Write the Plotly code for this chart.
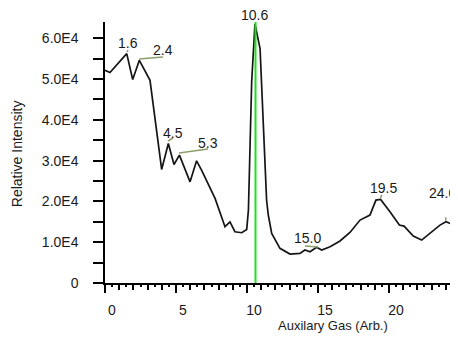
import plotly.graph_objects as go

# ---- data ----
gas = [0, 0.35, 1.53, 1.95, 2.42, 3.17, 3.99, 4.46, 4.86, 5.24, 5.99, 6.45, 6.8,
       7.75, 8.45, 8.8, 9.15, 9.63, 9.98, 10.1, 10.33, 10.56, 10.92, 11.15, 11.38,
       11.5, 11.74, 12.32, 13.03, 13.73, 14.08, 14.44, 14.9, 15.26, 15.85, 16.55,
       17.25, 17.96, 18.66, 19.08, 19.41, 20.07, 20.73, 21.06, 21.71, 22.3, 22.89,
       23.59, 24.01, 24.3, 24.86]
intensity = [52170, 51600, 56250, 49900, 54600, 49700, 27850, 34200, 29070, 31350,
             24800, 29960, 27680, 20750, 13800, 15000, 12570, 12330, 13140, 17880,
             49360, 63500, 57480, 37000, 20350, 16670, 12170, 8500, 7100, 7270, 8080,
             7670, 8740, 8080, 8900, 10300, 12400, 15430, 16650, 20330, 20500, 17460,
             14200, 13960, 11510, 10530, 12170, 14200, 15010, 14620, 15010]
marker_x = 10.6
peak_labels = ["1.6", "2.4", "4.5", "5.3", "10.6", "15.0", "19.5", "24.0"]
y_tick_vals = [0, 5000, 10000, 15000, 20000, 25000, 30000, 35000, 40000, 45000,
               50000, 55000, 60000]
y_tick_text = ["0", "", "1.0E4", "", "2.0E4", "", "3.0E4", "", "4.0E4", "",
               "5.0E4", "", "6.0E4"]
x_tick_vals = list(range(0, 25))
x_tick_text = [str(v) if v % 5 == 0 else "" for v in x_tick_vals]

# ---- layout helpers (placement only) ----
label_pos = [(1.62, 58850, 0), (4.08, 57130, 0), (4.79, 36780, 0), (7.25, 34330, 0),
             (10.56, 64000, 7), (14.23, 11030, 0), (19.58, 23290, 0), (23.8, 22070, 0)]
leaders = [((1.55, 56640), (1.62, 57130)), ((2.39, 54920), (4.08, 55410)),
           ((4.44, 34820), (4.79, 35550)), ((5.21, 31870), (7.25, 32860)),
           ((14.08, 9070), (15.0, 8830)), ((19.4, 20900), (19.5, 21600)),
           ((24.0, 15300), (24.0, 16100))]

FONT = "Liberation Sans, Arial, sans-serif"
XR = [0, 24.86]
YR = [0, 64000]

fig = go.Figure()
fig.add_trace(go.Scatter(x=gas, y=intensity, mode="lines",
                         line=dict(color="#151515", width=1.7), showlegend=False,
                         hoverinfo="skip"))
fig.add_trace(go.Scatter(x=[marker_x, marker_x], y=[0, 64000], mode="lines",
                         line=dict(color="#1ee01e", width=2), showlegend=False,
                         hoverinfo="skip"))
# invisible trace for overlay axis with long major ticks
fig.add_trace(go.Scatter(x=[0], y=[0], xaxis="x2", mode="markers",
                         marker=dict(opacity=0), showlegend=False, hoverinfo="skip"))

for (p0, p1) in leaders:
    fig.add_shape(type="line", x0=p0[0], y0=p0[1], x1=p1[0], y1=p1[1],
                  xref="x", yref="y", line=dict(color="#8c9e6c", width=1.6))

for txt, (lx, ly, ys) in zip(peak_labels, label_pos):
    fig.add_annotation(x=lx, y=ly, xref="x", yref="y", yshift=ys, text=txt,
                       showarrow=False, xanchor="center", yanchor="middle",
                       font=dict(family=FONT, size=14, color="#1a1a1a"))

fig.add_annotation(x=-0.249, y=0.494, xref="paper", yref="paper",
                   xanchor="center", yanchor="middle",
                   text="Relative Intensity", textangle=-90, showarrow=False,
                   font=dict(family=FONT, size=14, color="#1a1a1a"))
fig.add_annotation(x=0.646, y=-0.161, xref="paper", yref="paper",
                   xanchor="center", yanchor="middle",
                   text="Auxilary Gas (Arb.)", showarrow=False,
                   font=dict(family=FONT, size=13, color="#1a1a1a"))

fig.update_layout(
    width=450, height=331,
    margin=dict(l=97, r=0, t=14, b=56),
    paper_bgcolor="white", plot_bgcolor="white",
    font=dict(family=FONT, size=14, color="#1a1a1a"),
    xaxis=dict(range=XR, showgrid=False, zeroline=False, showline=True,
               linecolor="black", linewidth=1.5,
               tickmode="array", tickvals=x_tick_vals, ticktext=x_tick_text,
               ticks="outside", ticklen=5, tickwidth=1.5, tickcolor="black",
               ticklabelshift=7, ticklabelstandoff=8,
               minor=dict(dtick=0.5, tick0=0, ticks="outside", ticklen=2.5,
                          tickwidth=1.5, tickcolor="black"),
               tickfont=dict(family=FONT, size=14, color="#1a1a1a")),
    xaxis2=dict(range=XR, overlaying="x", anchor="y", side="bottom",
                showgrid=False, zeroline=False, showline=False,
                tickmode="array", tickvals=[0, 5, 10, 15, 20], ticks="outside",
                ticklen=9, tickwidth=1.5, tickcolor="black", showticklabels=False),
    yaxis=dict(range=YR, showgrid=False, zeroline=False, showline=True,
               linecolor="black", linewidth=1.5,
               tickmode="array", tickvals=y_tick_vals, ticktext=y_tick_text,
               ticks="outside", ticklen=10, tickwidth=1.5, tickcolor="black",
               ticklabelstandoff=12,
               tickfont=dict(family=FONT, size=14, color="#1a1a1a")),
)

fig.write_html("out.html")
